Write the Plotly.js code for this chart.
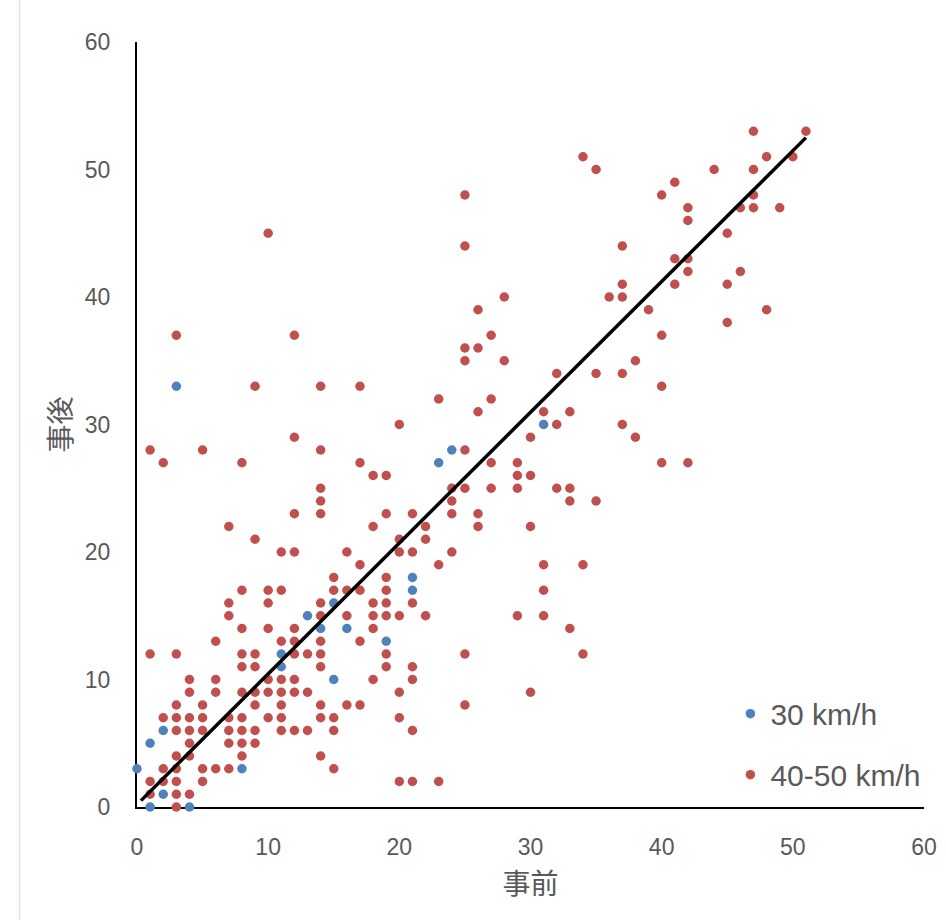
<!DOCTYPE html>
<html>
<head>
<meta charset="utf-8">
<script src="https://cdn.plot.ly/plotly-3.0.1.min.js"></script>
<style>html,body{margin:0;padding:0;background:#fff;}#chart{width:946px;height:920px;}</style>
</head>
<body>
<div id="chart"></div>
<script>
// 30 km/h series
const blueX = [0,1,1,2,2,4,3,8,11,11,13,14,15,16,15,19,21,21,23,24,31];
const blueY = [3,5,0,6,1,0,33,3,12,11,15,14,16,14,10,13,18,17,27,28,30];

// 40-50 km/h series
const redX = [
3,
1,3,4,
1,2,3,5,20,21,23,
2,3,5,6,7,15,
3,4,8,14,
4,7,8,9,
3,4,5,7,8,9,11,12,13,15,21,
2,3,4,5,7,8,10,11,14,15,20,
3,5,9,11,14,16,17,25,
4,6,8,9,10,11,12,13,20,30,
4,6,10,11,12,18,21,
8,9,14,19,21,
1,3,8,9,12,13,14,19,25,34,
6,11,12,14,17,
8,10,12,18,33,
7,14,16,18,19,20,22,29,31,
7,10,14,18,19,21,
8,10,11,15,16,17,19,31,
15,19,
17,23,31,34,
11,12,16,20,21,24,
9,20,22,
7,18,22,26,30,
12,14,19,21,24,26,
14,24,33,35,
14,24,25,27,29,32,33,
18,19,29,30,
2,8,17,27,29,40,42,
1,5,14,25,
12,30,38,
20,32,37,
26,31,33,
23,27,
9,14,17,40,
32,35,37,
25,28,38,
25,26,
3,12,27,40,
45,
26,39,48,
28,36,37,
37,41,45,
42,46,
41,42,
25,37,
10,45,
42,
42,46,47,49,
25,40,47,
41,
35,44,47,
34,48,50,
47,51];
const redY = [
0,
1,1,1,
2,2,2,2,2,2,2,
3,3,3,3,3,3,
4,4,4,4,
5,5,5,5,
6,6,6,6,6,6,6,6,6,6,6,
7,7,7,7,7,7,7,7,7,7,7,
8,8,8,8,8,8,8,8,
9,9,9,9,9,9,9,9,9,9,
10,10,10,10,10,10,10,
11,11,11,11,11,
12,12,12,12,12,12,12,12,12,12,
13,13,13,13,13,
14,14,14,14,14,
15,15,15,15,15,15,15,15,15,
16,16,16,16,16,16,
17,17,17,17,17,17,17,17,
18,18,
19,19,19,19,
20,20,20,20,20,20,
21,21,21,
22,22,22,22,22,
23,23,23,23,23,23,
24,24,24,24,
25,25,25,25,25,25,25,
26,26,26,26,
27,27,27,27,27,27,27,
28,28,28,28,
29,29,29,
30,30,30,
31,31,31,
32,32,
33,33,33,33,
34,34,34,
35,35,35,
36,36,
37,37,37,37,
38,
39,39,39,
40,40,40,
41,41,41,
42,42,
43,43,
44,44,
45,45,
46,
47,47,47,47,
48,48,48,
49,
50,50,50,
51,51,51,
53,53];

// trend line end points
const trendX = [0.3, 51];
const trendY = [0.5, 52.5];

const seriesNames = ['30 km/h', '40-50 km/h'];
const tickVals = [0,10,20,30,40,50,60];
const tickText = ['0','10','20','30','40','50','60'];
const xTitle = '事前';
const yTitle = '事後';

const FONT = '"Liberation Sans", Arial, "Noto Sans CJK JP", sans-serif';
const GRAY = '#595959';

const traces = [
  {x: blueX, y: blueY, type: 'scatter', mode: 'markers', name: seriesNames[0],
   legendgroup: 'a', cliponaxis: false,
   marker: {color: '#4F81BD', size: 9.5}},
  {x: redX, y: redY, type: 'scatter', mode: 'markers', name: seriesNames[1],
   legendgroup: 'b', cliponaxis: false,
   marker: {color: '#C0504D', size: 9.5}},
  {x: trendX, y: trendY, type: 'scatter', mode: 'lines', showlegend: false,
   cliponaxis: false, hoverinfo: 'skip',
   line: {color: '#000000', width: 3.5}}
];

const axisCommon = {
  range: [0, 60], tickvals: tickVals, ticktext: tickText,
  showgrid: false, zeroline: false, showline: true, linecolor: '#000', linewidth: 2,
  ticks: '', layer: 'below traces', automargin: false,
  tickfont: {family: FONT, size: 23, color: GRAY}
};

const layout = {
  width: 946, height: 920,
  margin: {l: 137, r: 22, t: 42, b: 113},
  paper_bgcolor: '#fff', plot_bgcolor: '#fff',
  font: {family: FONT, color: GRAY},
  xaxis: Object.assign({}, axisCommon, {
    ticklabelstandoff: 18,
    title: {text: xTitle, font: {family: FONT, size: 28, color: GRAY}, standoff: 16}
  }),
  yaxis: Object.assign({}, axisCommon, {
    ticklabelstandoff: 20,
    title: {text: yTitle, font: {family: FONT, size: 28, color: GRAY}, standoff: 5}
  }),
  showlegend: true,
  legend: {x: 0.754, xanchor: 'left', y: 0.156, yanchor: 'top',
    bgcolor: 'rgba(0,0,0,0)', tracegroupgap: 19,
    font: {family: FONT, size: 30, color: GRAY}},
  shapes: [{type: 'line', xref: 'paper', yref: 'paper', x0: -0.149, x1: -0.149, y0: -0.2, y1: 1.06,
    line: {color: '#D9D9D9', width: 1}}]
};

Plotly.newPlot('chart', traces, layout, {displayModeBar: false, staticPlot: true});
</script>
</body>
</html>
